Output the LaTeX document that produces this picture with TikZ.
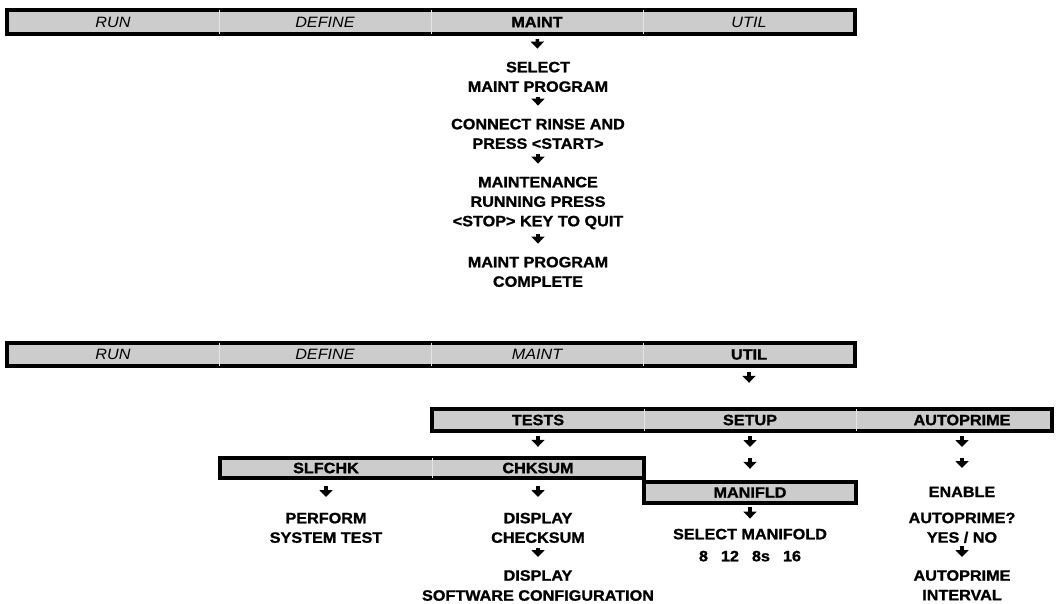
\documentclass[tikz,border=0pt]{standalone}
\usepackage{fontspec}
\setmainfont{Liberation Sans}[FakeStretch=1.08, BoldFeatures={FakeBold=1.2}]
\usetikzlibrary{arrows.meta,backgrounds}
\definecolor{barfill}{HTML}{CCCCCC}
\definecolor{sepgray}{HTML}{E4E4E4}

\begin{document}
\begin{tikzpicture}[x=1pt,y=-1pt,
    every node/.style={font=\fontsize{15}{19.5}\selectfont\bfseries, align=center, inner sep=0pt},
    cell/.style={minimum width=212pt, minimum height=#1, anchor=center},
    cell/.default=24pt,
    menu/.style={font=\fontsize{15}{19.5}\selectfont\itshape},
    msg/.style={anchor=north},
    barframe/.style={fill=barfill, draw=black, line width=4pt},
    cellsep/.style={draw=sepgray, line width=0.8pt},
    flow/.style={line width=3.5pt, -{Triangle[width=13pt,length=7pt]}, shorten <=5pt, shorten >=13pt},
    barflow/.style={flow, shorten >=11pt}]
  \useasboundingbox (0,0) rectangle (1057,603);

  \node[cell,menu] (run1) at (113,22) {RUN};
  \node[cell,menu] (def1) at (325,22) {DEFINE};
  \node[cell] (maint1) at (537,22) {MAINT};
  \node[cell,menu] (util1) at (749,22) {UTIL};

  \node[msg] (sel) at (538,61.6) {SELECT\\MAINT PROGRAM};
  \node[msg] (conn) at (538,118.6) {CONNECT RINSE AND\\PRESS <START>};
  \node[msg] (mrun) at (538,176.6) {MAINTENANCE\\RUNNING PRESS\\<STOP> KEY TO QUIT};
  \node[msg] (mdone) at (538,256.6) {MAINT PROGRAM\\COMPLETE};

  \node[cell=23pt,menu] (run2) at (113,354.5) {RUN};
  \node[cell=23pt,menu] (def2) at (325,354.5) {DEFINE};
  \node[cell=23pt,menu] (maint2) at (537,354.5) {MAINT};
  \node[cell=23pt] (util2) at (749,354.5) {UTIL};

  \node[cell=22pt] (tests) at (538,420) {TESTS};
  \node[cell=22pt] (setup) at (750,420) {SETUP};
  \node[cell=22pt] (autop) at (962,420) {AUTOPRIME};

  \node[cell=20pt] (slf) at (326,468) {SLFCHK};
  \node[cell=20pt] (chk) at (538,468) {CHKSUM};
  \coordinate (setmid) at (750,458);
  \coordinate (automid) at (962,458);
  \node[cell=21pt] (manif) at (750,492.5) {MANIFLD};

  \node[msg] (perf) at (326,512.6) {PERFORM\\SYSTEM TEST};
  \node[msg] (dchk) at (538,512.6) {DISPLAY\\CHECKSUM};
  \node[msg] (dsw) at (538,570) {DISPLAY\\[0.5pt]SOFTWARE CONFIGURATION};
  \node[msg] (selman) at (750,528.6) {SELECT MANIFOLD\\[2.5pt]8\hspace{13pt}12\hspace{13pt}8s\hspace{13pt}16};
  \node[msg] (enab) at (962,486.6) {ENABLE\\[6.5pt]AUTOPRIME?\\YES / NO};
  \node[msg] (autoint) at (962,570) {AUTOPRIME\\INTERVAL};

  \begin{scope}[on background layer]
    \draw[barframe] (run1.north west) rectangle (util1.south east);
    \draw[barframe] (run2.north west) rectangle (util2.south east);
    \draw[barframe] (tests.north west) rectangle ([xshift=-16pt]autop.south east);
    \draw[barframe] (slf.north west) rectangle (chk.south east);
    \draw[barframe] (manif.north west) rectangle (manif.south east);
    \foreach \c in {run1,def1,maint1,run2,def2,maint2,tests,setup,slf}
      \draw[cellsep] (\c.north east) -- (\c.south east);
  \end{scope}

  \draw[flow] (maint1) -- (sel);
  \draw[flow] (sel) -- (conn);
  \draw[flow] (conn) -- (mrun);
  \draw[flow] (mrun) -- (mdone);

  \draw[flow, shorten <=6pt, shorten >=26pt] (util2) -- (util2 |- tests.north);
  \draw[barflow] (tests) -- (chk);
  \draw[barflow] (setup) -- (setmid);
  \draw[flow, shorten <=0pt] (setmid) -- (manif);
  \draw[barflow] (autop) -- (automid);
  \draw[flow, shorten <=0pt, shorten >=18.6pt] (automid) -- (enab);
  \draw[flow, shorten <=8pt, shorten >=15.6pt] (slf) -- (perf);
  \draw[flow, shorten <=8pt, shorten >=15.6pt] (chk) -- (dchk);
  \draw[flow, shorten <=4pt, shorten >=10pt] (manif) -- (selman);
  \draw[flow] (dchk) -- (dsw);
  \draw[flow, shorten <=3pt] (enab) -- (autoint);
\end{tikzpicture}
\end{document}
